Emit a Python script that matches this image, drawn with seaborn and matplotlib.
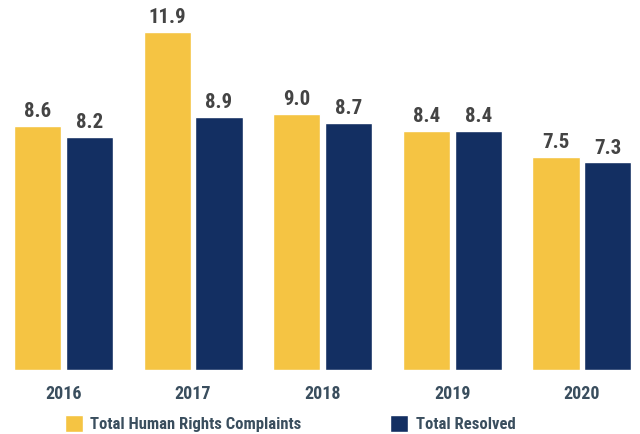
import matplotlib
matplotlib.use("Agg")
import matplotlib.pyplot as plt
from matplotlib import font_manager
import seaborn as sns
import pandas as pd

years = ["2016", "2017", "2018", "2019", "2020"]
complaints = [8.6, 11.9, 9.0, 8.4, 7.5]
resolved = [8.2, 8.9, 8.7, 8.4, 7.3]
series_names = ["Total Human Rights Complaints", "Total Resolved"]
colors = ["#F5C443", "#132F62"]

# pick a condensed sans-serif face for the labels
installed = {f.name for f in font_manager.fontManager.ttflist}
family = "DejaVu Sans"
for cand in ["Roboto Condensed", "Liberation Sans Narrow", "Archivo Narrow",
             "Barlow Semi Condensed", "Barlow Condensed"]:
    if cand in installed:
        family = cand
        break

df = pd.DataFrame({
    "year": years * 2,
    "value": complaints + resolved,
    "series": [series_names[0]] * len(years) + [series_names[1]] * len(years),
})

sns.set_theme(style="white")
plt.rcParams["font.family"] = [family, "DejaVu Sans"]

fig = plt.figure(figsize=(6.4, 4.34), dpi=100)
ax = fig.add_axes([0, 64.5 / 434, 1, 1 - 64.5 / 434])
sns.barplot(data=df, x="year", y="value", hue="series", palette=colors,
            width=0.8, gap=0.09, saturation=1, ax=ax)

for cont in ax.containers:
    ax.bar_label(cont, fmt="%.1f", padding=3.5, fontsize=15, fontweight="bold",
                 color="#444444")

ax.set_xlim(-0.49, 4.448)
ax.set_ylim(0, 13.03)
ax.set_xlabel("")
ax.set_ylabel("")
ax.set_yticks([])
for s in ax.spines.values():
    s.set_visible(False)
ax.tick_params(axis="x", length=0, pad=11)
for t in ax.get_xticklabels():
    t.set_fontsize(13)
    t.set_fontweight("bold")
    t.set_color("#3A4E5E")

sns.move_legend(ax, "lower left", bbox_to_anchor=(58 / 640, -0.011),
                bbox_transform=fig.transFigure, ncol=2, frameon=False,
                title=None, handlelength=1.1, handleheight=1.2,
                handletextpad=0.45, columnspacing=5.3, fontsize=12,
                borderaxespad=0)
for t in ax.get_legend().get_texts():
    t.set_fontweight("bold")
    t.set_color("#3A4E5E")

fig.savefig("out.png", dpi=100)
